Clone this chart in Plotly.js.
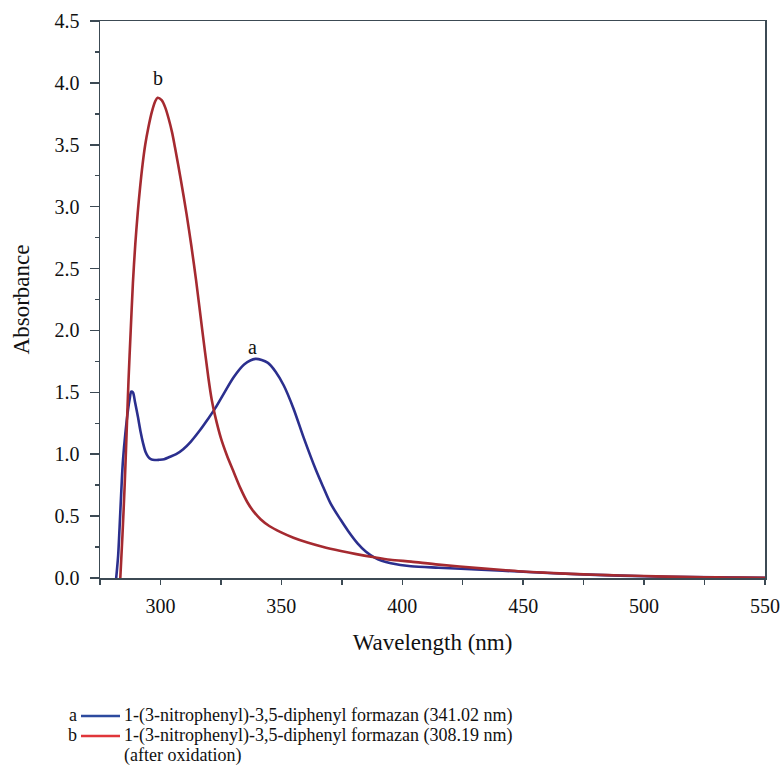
<!DOCTYPE html>
<html>
<head>
<meta charset="utf-8">
<script src="https://cdn.plot.ly/plotly-3.0.1.min.js"></script>
<style>html,body{margin:0;padding:0;background:#fff;}#chart{width:782px;height:773px;}</style>
</head>
<body>
<div id="chart"></div>
<script>
// Curve a: 1-(3-nitrophenyl)-3,5-diphenyl formazan
var wlA = [281.7, 282.5, 283.1, 284, 284.5, 285.5, 286.6, 287.3, 287.9, 288.6, 289.5, 290.7, 291.8, 292.8, 293.8, 294.9, 296, 297.7, 299.5, 301.5, 304, 306.5, 309.4, 312.5, 316.4, 319.5, 322.6, 326.5, 330.2, 334.6, 339.3, 344.3, 347.7, 351, 355, 359.3, 364.3, 367.3, 370.4, 374.6, 377.6, 381.5, 385, 388.4, 391.5, 395.3, 403.6, 415, 432.7, 450, 470, 490, 510, 530, 550];
var absA = [0, 0.18, 0.41, 0.78, 0.95, 1.17, 1.36, 1.45, 1.505, 1.5, 1.42, 1.30, 1.18, 1.09, 1.02, 0.98, 0.96, 0.953, 0.955, 0.96, 0.98, 1.0, 1.04, 1.1, 1.195, 1.28, 1.37, 1.5, 1.62, 1.725, 1.77, 1.74, 1.665, 1.555, 1.37, 1.13, 0.872, 0.735, 0.6, 0.468, 0.38, 0.28, 0.212, 0.167, 0.139, 0.119, 0.095, 0.083, 0.068, 0.05, 0.032, 0.019, 0.01, 0.005, 0.002];

// Curve b: after oxidation
var wlB = [283.4, 284.3, 285.2, 286, 286.8, 287.7, 288.6, 289.6, 290.6, 291.6, 292.6, 293.7, 295, 296.5, 297.8, 298.8, 300.5, 302, 303.4, 304.8, 306, 308.4, 310.8, 312.8, 314.7, 317.3, 319.8, 321.2, 322.6, 325, 327.5, 330, 333.1, 336, 338.4, 341.4, 345, 349.7, 355, 360.8, 367, 374.6, 381, 388.4, 395, 403.6, 415, 432.7, 441.6, 450, 460, 470, 480, 490, 500, 510, 520, 530, 540, 550];
var absB = [0, 0.35, 0.75, 1.17, 1.6, 2.0, 2.38, 2.7, 2.95, 3.16, 3.34, 3.5, 3.64, 3.77, 3.85, 3.88, 3.86, 3.8, 3.71, 3.6, 3.48, 3.22, 2.94, 2.68, 2.41, 2.0, 1.62, 1.44, 1.31, 1.13, 0.99, 0.87, 0.724, 0.61, 0.54, 0.475, 0.42, 0.37, 0.325, 0.286, 0.252, 0.218, 0.193, 0.168, 0.148, 0.132, 0.108, 0.078, 0.065, 0.052, 0.042, 0.033, 0.026, 0.02, 0.016, 0.011, 0.008, 0.005, 0.003, 0.002];

var peakLabels = ['a', 'b'];
var peakX = [338, 299];
var peakY = [1.87, 4.04];

var legendKeys = ['a', 'b'];
var legendTexts = ['1-(3-nitrophenyl)-3,5-diphenyl formazan (341.02 nm)', '1-(3-nitrophenyl)-3,5-diphenyl formazan (308.19 nm)'];
var legendExtra = '(after oxidation)';

var xTitle = 'Wavelength (nm)';
var yTitle = 'Absorbance';

var blue = '#2b2f8e';
var red = '#a52a30';
var legBlue = '#2d4a9e';
var legRed = '#e0353a';
var axisCol = '#3c4a54';
var fontFam = 'Liberation Serif, Times New Roman, serif';

var traces = [
  {x: wlA, y: absA, type: 'scatter', mode: 'lines', line: {color: blue, width: 2.6, shape: 'spline', smoothing: 0.8}, hoverinfo: 'x+y', showlegend: false},
  {x: wlB, y: absB, type: 'scatter', mode: 'lines', line: {color: red, width: 2.6, shape: 'spline', smoothing: 0.8}, hoverinfo: 'x+y', showlegend: false}
];

function pyFromPx(px) { return (578 - px) / 557; }
function pxFromPx(px) { return (px - 100) / 665; }

var annotations = [];
for (var i = 0; i < peakLabels.length; i++) {
  annotations.push({x: peakX[i], y: peakY[i], xref: 'x', yref: 'y', text: peakLabels[i], showarrow: false, font: {family: fontFam, size: 20, color: '#111'}});
}
var rowY = [715, 735, 755];
var legCols = [legBlue, legRed];
var shapes = [];
function legText(txt, xpx, ypx, anchor) {
  return {x: pxFromPx(xpx), y: pyFromPx(ypx), xref: 'paper', yref: 'paper', text: txt, showarrow: false,
    xanchor: anchor, yanchor: 'middle', borderpad: 0, borderwidth: 0,
    font: {family: fontFam, size: 18, color: '#111'}};
}
for (var j = 0; j < legendKeys.length; j++) {
  annotations.push(legText(legendKeys[j], 77, rowY[j], 'right'));
  annotations.push(legText(legendTexts[j], 124, rowY[j], 'left'));
  shapes.push({type: 'line', xref: 'paper', yref: 'paper', x0: pxFromPx(81), x1: pxFromPx(120), y0: pyFromPx(rowY[j] + 1), y1: pyFromPx(rowY[j] + 1), line: {color: legCols[j], width: 2.5}});
}
annotations.push(legText(legendExtra, 124, rowY[2], 'left'));

var layout = {
  width: 782, height: 773,
  margin: {l: 100, r: 17, t: 21, b: 195},
  paper_bgcolor: '#fff', plot_bgcolor: '#fff',
  font: {family: fontFam, size: 18, color: '#111'},
  showlegend: false,
  xaxis: {
    range: [275, 550], dtick: 50, tick0: 300,
    showgrid: false, zeroline: false,
    showline: true, linecolor: axisCol, linewidth: 1.5, mirror: true,
    ticks: 'outside', ticklen: 5, tickwidth: 1.5, tickcolor: axisCol,
    minor: {dtick: 25, tick0: 275, ticks: 'outside', ticklen: 5, tickwidth: 1.5, tickcolor: axisCol, showgrid: false},
    tickfont: {family: fontFam, size: 20, color: '#111'},
    ticklabelstandoff: 4,
    title: {text: xTitle, font: {family: fontFam, size: 23, color: '#111'}, standoff: 18}
  },
  yaxis: {
    range: [0, 4.5], dtick: 0.5, tickformat: '.1f',
    showgrid: false, zeroline: false,
    showline: true, linecolor: axisCol, linewidth: 1.5, mirror: true,
    ticks: 'outside', ticklen: 9, tickwidth: 1.5, tickcolor: axisCol,
    minor: {dtick: 0.25, ticks: 'outside', ticklen: 4, tickwidth: 1.5, tickcolor: axisCol, showgrid: false},
    tickfont: {family: fontFam, size: 20, color: '#111'},
    ticklabelstandoff: 6,
    title: {text: yTitle, font: {family: fontFam, size: 23, color: '#111'}, standoff: 18}
  },
  annotations: annotations,
  shapes: shapes
};

Plotly.newPlot('chart', traces, layout, {displayModeBar: false, staticPlot: true});
</script>
</body>
</html>
